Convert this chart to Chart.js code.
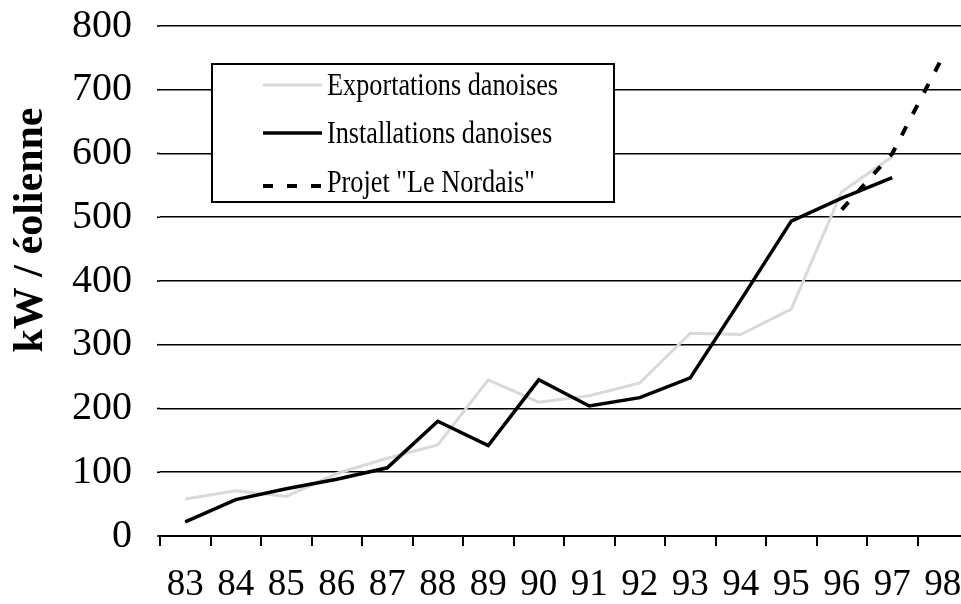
<!DOCTYPE html>
<html>
<head>
<meta charset="utf-8">
<script src="https://cdn.jsdelivr.net/npm/chart.js@4.4.0/dist/chart.umd.min.js"></script>
<style>
html, body { margin: 0; padding: 0; background: #fff; overflow: hidden; }
canvas { display: block; }
</style>
</head>
<body>
<canvas id="graphique" width="980" height="604"></canvas>
<script>
// Données (kW par éolienne)
var annees = ['83', '84', '85', '86', '87', '88', '89', '90', '91', '92', '93', '94', '95', '96', '97', '98'];
var exportations = [58, 71, 62, 98, 122, 143, 245, 210, 220, 240, 318, 316, 356, 540, 595, null];
var installations = [22, 57, 74, 89, 107, 180, 142, 245, 204, 217, 248, 370, 494, 530, 562, null];
var nordais = [null, null, null, null, null, null, null, null, null, null, null, null, null, 512, 600, 752];
var graduations = { min: 0, max: 800, pas: 100 };

var legendeEtTitre = {
    id: 'legendeEtTitre',
    afterDraw: function(chart) {
        var ctx = chart.ctx;

        // titre de l'axe vertical
        ctx.save();
        ctx.translate(42, 230);
        ctx.rotate(-Math.PI / 2);
        ctx.font = 'bold 42px "Liberation Serif"';
        ctx.fillStyle = '#000';
        ctx.textAlign = 'center';
        ctx.textBaseline = 'alphabetic';
        ctx.fillText('kW / éolienne', 0, 0);
        ctx.restore();

        // petits traits à gauche des lignes de grille
        var y = chart.scales.y;
        ctx.save();
        ctx.strokeStyle = '#000';
        ctx.lineWidth = 1.6;
        y.ticks.forEach(function(t) {
            var py = y.getPixelForValue(t.value);
            ctx.beginPath();
            ctx.moveTo(157, py);
            ctx.lineTo(chart.chartArea.left, py);
            ctx.stroke();
        });
        ctx.restore();

        // légende encadrée
        ctx.save();
        ctx.fillStyle = '#fff';
        ctx.fillRect(212, 64, 402, 138);
        ctx.strokeStyle = '#000';
        ctx.lineWidth = 2;
        ctx.strokeRect(212, 64, 402, 138);

        var lignes = [85, 133, 186];
        var bases = [95, 143, 192];
        chart.data.datasets.forEach(function(ds, i) {
            ctx.beginPath();
            ctx.strokeStyle = ds.borderColor;
            ctx.lineWidth = ds.borderWidth;
            ctx.setLineDash(ds.borderDash || []);
            ctx.moveTo(263, lignes[i]);
            ctx.lineTo(322, lignes[i]);
            ctx.stroke();
            ctx.setLineDash([]);

            ctx.save();
            ctx.translate(327, bases[i]);
            ctx.scale(0.82, 1);
            ctx.font = '32px "Liberation Serif"';
            ctx.fillStyle = '#000';
            ctx.textBaseline = 'alphabetic';
            ctx.fillText(ds.label, 0, 0);
            ctx.restore();
        });
        ctx.restore();
    }
};

var ctx = document.getElementById('graphique').getContext('2d');
var graphique = new Chart(ctx, {
    type: 'line',
    data: {
        labels: annees,
        datasets: [{
            label: 'Exportations danoises',
            data: exportations,
            borderColor: '#d9d9d9',
            borderWidth: 3,
            order: 3
        },
        {
            label: 'Installations danoises',
            data: installations,
            borderColor: '#000',
            borderWidth: 3.5,
            order: 1
        },
        {
            label: 'Projet "Le Nordais"',
            data: nordais,
            borderColor: '#000',
            borderWidth: 4,
            borderDash: [10, 14],
            order: 2
        }]
    },
    options: {
        responsive: false,
        animation: false,
        layout: { padding: { top: 26, right: 12, left: 0, bottom: 0 } },
        elements: {
            point: { radius: 0, hoverRadius: 0 },
            line: { tension: 0, fill: false }
        },
        scales: {
            x: {
                offset: true,
                grid: {
                    offset: true,
                    drawOnChartArea: false,
                    color: '#000',
                    lineWidth: 2,
                    tickLength: 10
                },
                border: { display: true, color: '#000', width: 2 },
                ticks: {
                    color: '#000',
                    padding: 17,
                    maxRotation: 0,
                    autoSkip: false,
                    font: { family: '"Liberation Serif"', size: 37 }
                },
                afterFit: function(scale) { scale.height = 68; }
            },
            y: {
                min: graduations.min,
                max: graduations.max,
                ticks: {
                    stepSize: graduations.pas,
                    color: '#000',
                    padding: 0,
                    font: { family: '"Liberation Serif"', size: 40 }
                },
                grid: {
                    color: '#000',
                    lineWidth: 1.6,
                    tickLength: 28,
                    tickColor: 'rgba(0,0,0,0)'
                },
                border: { display: false },
                afterFit: function(scale) { scale.width = 160; }
            }
        },
        plugins: {
            legend: { display: false },
            tooltip: { enabled: false }
        }
    },
    plugins: [legendeEtTitre]
});
</script>
</body>
</html>
